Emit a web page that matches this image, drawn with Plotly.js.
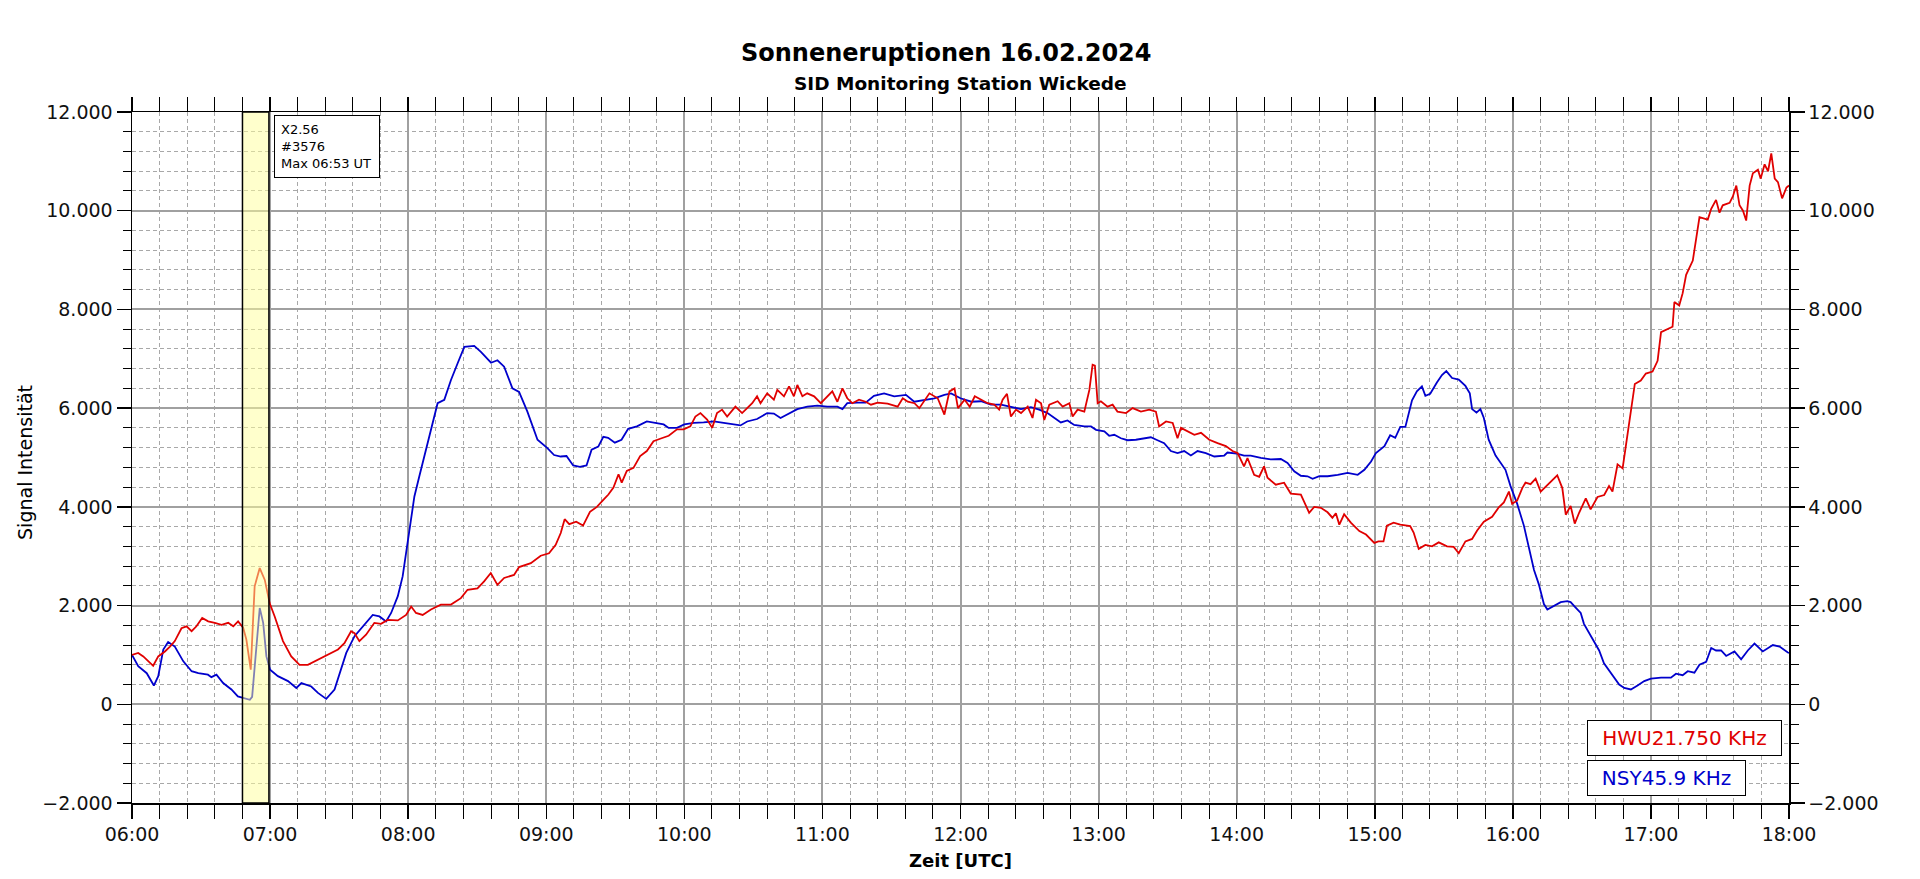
<!DOCTYPE html>
<html>
<head>
<meta charset="utf-8">
<script src="https://cdn.plot.ly/plotly-3.0.1.min.js"></script>
<style>
  html, body { margin: 0; padding: 0; background: #FFFFFF; }
  #sidChart { width: 1920px; height: 879px; }
</style>
</head>
<body>
<div id="sidChart"></div>
<script>
// =========================================================================
// SID monitoring chart: Sonneneruptionen 16.02.2024
// Two VLF receivers (HWU 21.750 kHz, NSY 45.9 kHz), 06:00 to 18:00 UTC
// =========================================================================

// -------------------------------------------------------------------------
// Data. Times are minutes after 06:00 UTC.
// -------------------------------------------------------------------------
const DAY = "2024-02-16";

const HWU_MIN = [
  0, 2.7, 4.9, 7, 9.2, 11.4, 14.3, 16.5, 18.6, 21.5,
  23.7, 25.9, 28, 30.5, 33.1, 36, 38.9, 41.8, 44, 46.1,
  48.3, 49.7, 51.6, 53.3, 55.5, 57.7, 59.8, 62, 65.6, 69.2,
  72.8, 76.4, 80.8, 85.1, 89.5, 92.3, 95.2, 96.7, 98.8, 101.7,
  105.3, 108.2, 111.1, 115.5, 119.1, 121.3, 123.4, 126.3, 129.9, 134.2,
  138.6, 142.9, 145.8, 150.1, 153, 155.9, 158.8, 161.7, 166, 168.2,
  173.3, 177.6, 181.2, 184.1, 186.3, 188, 190, 193, 196, 199,
  202, 205, 207, 209.2, 211.4, 212.8, 215, 217.9, 220.8, 223.7,
  226.6, 229.5, 233.2, 236.8, 239.7, 242.6, 244.8, 247, 249.9, 252.1,
  254.2, 256.4, 258.6, 262.2, 265.1, 267.3, 269.5, 271.6, 273.1, 276,
  278.9, 280.4, 283.3, 285.5, 287.6, 289.1, 291.3, 293.4, 296.4, 299.3,
  302.1, 304.3, 306.5, 308.7, 310.8, 313, 315.9, 318.8, 321.1, 324,
  328.3, 332.7, 334.9, 337.1, 340, 342.1, 346.5, 350.1, 353, 355.2,
  357.4, 358.9, 361.8, 364, 366.2, 368.9, 371.8, 374.7, 376.8, 378.3,
  380.2, 381.9, 384.1, 386.3, 389.2, 391.3, 392.8, 395, 396.4, 398.6,
  402.2, 404.4, 407.3, 408.7, 410.9, 413.8, 416, 417.4, 418.4, 419.6,
  421, 423.9, 426.1, 428.2, 431.9, 434.8, 438.4, 442, 444.9, 446.3,
  449.3, 452.2, 454.3, 455.8, 458.7, 461.6, 464.5, 468.1, 471.7, 475.3,
  478.2, 480.4, 483.2, 484.7, 487.6, 489.8, 491.9, 493.4, 497, 500.6,
  503.5, 507.9, 511.5, 513.7, 516.6, 519.5, 521.6, 523.1, 524.6, 526.7,
  529.6, 533.3, 536.2, 539.8, 541.6, 543.8, 545.3, 548.2, 551.1, 555.4,
  556.9, 559.1, 562, 564.9, 567.8, 571.4, 574.3, 576.5, 579.4, 582.3,
  584.5, 587.4, 591, 593.9, 596.1, 598.3, 599.7, 601.9, 604.1, 605.5,
  607.7, 609.9, 612.1, 615, 617.1, 619.3, 621.5, 623, 625.1, 626.9,
  628.8, 631.7, 633.8, 636.8, 639.7, 641.8, 643.3, 645.5, 647.7, 649.1,
  651.3, 653, 655.6, 657.8, 660.7, 662.9, 664.4, 668, 669.4, 670.2,
  672.3, 673.8, 675.3, 678.2, 679.6, 681.1, 684.7, 686.2, 688.3, 689.8,
  691.2, 694.2, 695.6, 697.1, 698.5, 700, 701.4, 702.9, 704.3, 706.5,
  707.7, 709.4, 710.9, 712.3, 713.8, 715.2, 717, 718.9, 720,
];
const HWU_VAL = [
  1000, 1040, 970, 870, 780, 970, 1070, 1170, 1280, 1540,
  1580, 1480, 1580, 1750, 1680, 1650, 1610, 1650, 1580, 1680,
  1550, 1310, 700, 2390, 2760, 2520, 2050, 1780, 1280, 970,
  800, 800, 900, 1000, 1110, 1240, 1480, 1440, 1280, 1410,
  1650, 1630, 1710, 1700, 1810, 1980, 1850, 1810, 1920, 2020,
  2020, 2150, 2320, 2350, 2490, 2660, 2420, 2560, 2620, 2780,
  2860, 3010, 3060, 3230, 3470, 3750, 3650, 3700, 3620, 3900,
  4000, 4150, 4250, 4390, 4660, 4490, 4730, 4790, 5030, 5130,
  5330, 5380, 5440, 5570, 5570, 5630, 5830, 5900, 5770, 5600,
  5900, 5970, 5830, 6030, 5900, 6000, 6100, 6240, 6100, 6300,
  6170, 6370, 6240, 6440, 6240, 6470, 6240, 6300, 6240, 6100,
  6240, 6340, 6130, 6400, 6200, 6100, 6170, 6130, 6070, 6110,
  6090, 6030, 6200, 6130, 6100, 6000, 6300, 6200, 5870, 6340,
  6400, 6000, 6170, 6030, 6240, 6180, 6100, 6070, 5970, 6170,
  6290, 5830, 5970, 5900, 6030, 5800, 6170, 6100, 5760, 6070,
  6140, 6030, 6100, 5830, 5970, 5930, 6370, 6880, 6860, 6100,
  6140, 6030, 6070, 5930, 5900, 6000, 5930, 5970, 5930, 5630,
  5730, 5700, 5390, 5600, 5530, 5460, 5500, 5360, 5290, 5230,
  5130, 5090, 4820, 4990, 4650, 4610, 4820, 4590, 4450, 4490,
  4270, 4250, 3880, 4000, 3980, 3890, 3780, 3870, 3640, 3850,
  3680, 3510, 3440, 3270, 3300, 3300, 3620, 3680, 3640, 3610,
  3480, 3150, 3230, 3200, 3280, 3200, 3190, 3060, 3300, 3350,
  3520, 3700, 3800, 3990, 4090, 4310, 4060, 4130, 4380, 4490,
  4460, 4570, 4310, 4440, 4530, 4640, 4380, 3840, 4020, 3660,
  3880, 4170, 3950, 4200, 4240, 4420, 4310, 4860, 4780, 5220,
  5870, 6490, 6560, 6700, 6740, 6960, 7540, 7610, 7650, 8150,
  8080, 8330, 8700, 8990, 9420, 9870, 9820, 10040, 10220, 9960,
  10110, 10160, 10290, 10510, 10110, 10000, 9800, 10510, 10760, 10830,
  10650, 10940, 10800, 11160, 10650, 10580, 10250, 10470, 10510,
];

const NSY_MIN = [
  0, 2.7, 6.4, 9.5, 11.4, 13.6, 15.7, 18.6, 22.3, 25.9,
  28.8, 33, 34.5, 36.7, 39.6, 43.2, 46, 51.2, 52.2, 55.5,
  57, 58.4, 60, 63.4, 67.8, 71.4, 73.6, 77.9, 80.8, 84.4,
  88, 90.9, 93.1, 96.7, 101, 104.6, 107.5, 110.4, 112.6, 115.5,
  117.6, 119.8, 122.7, 124.8, 127, 129.2, 131.4, 132.8, 135.7, 138.6,
  141.5, 144.4, 148.7, 151.6, 156, 158.8, 161.7, 165.3, 168.2, 171.8,
  176.2, 180.5, 183.4, 186.3, 188.8, 191.7, 194.6, 197.5, 199.7, 202.6,
  204.8, 206.9, 209.8, 212.7, 215.6, 219.4, 223.7, 227.4, 231, 233.2,
  236.8, 240, 244.1, 248.4, 252.8, 257.1, 261.5, 264.4, 267.3, 271.6,
  276, 278.9, 281.8, 284.7, 289.1, 293.4, 297.8, 302.1, 306.5, 308.7,
  310.8, 315.2, 318.8, 322.4, 326.8, 331.2, 336.3, 339.9, 344.3, 348.6,
  353, 355.9, 360, 364.7, 368.9, 373.2, 377.6, 381.9, 386.3, 390.6,
  394.2, 397.8, 400, 403.6, 406.5, 409.4, 413.8, 416.7, 418.9, 422.5,
  424.6, 426.8, 429.7, 432.6, 436.2, 439.9, 442.7, 445.6, 448.5, 451.4,
  454.3, 457.2, 460.1, 463, 466.6, 470.3, 474.6, 476, 480.1, 483.2,
  486.1, 490.5, 494.8, 499.2, 502.1, 505, 507.9, 510.8, 513, 515.9,
  519.5, 523.9, 528.2, 532.6, 535.5, 538.4, 540.5, 544.2, 546.7, 548.9,
  551.1, 553.3, 554.5, 556.2, 558.3, 560.5, 562, 564.1, 567, 569.2,
  571.1, 573.6, 576.5, 579.4, 581.3, 582.3, 584.2, 585.9, 587.4, 589.5,
  592.5, 595.4, 596.8, 599, 601.9, 604.8, 607, 609.2, 611.3, 613.5,
  615, 617.9, 620.8, 623.7, 625.1, 627.3, 629.5, 630.9, 633.1, 635.3,
  637.5, 639.6, 641.8, 644, 646.2, 648.4, 651.3, 654.2, 657.1, 660,
  664.4, 668.7, 670.9, 673.8, 676, 678.9, 681.1, 684, 686.2, 688.3,
  690.5, 692.7, 696.3, 699.2, 702.1, 705, 708.6, 713, 715.9, 719.5,
  720,
];
const NSY_VAL = [
  1000, 770, 630, 380, 570, 1110, 1260, 1170, 870, 670,
  630, 600, 550, 600, 430, 300, 160, 90, 150, 1950,
  1650, 970, 700, 570, 470, 330, 430, 360, 230, 110,
  300, 700, 1040, 1380, 1610, 1810, 1780, 1680, 1850, 2190,
  2590, 3270, 4210, 4610, 5020, 5420, 5830, 6100, 6170, 6570,
  6910, 7240, 7260, 7140, 6920, 6970, 6840, 6400, 6330, 5930,
  5360, 5190, 5050, 5020, 5030, 4840, 4810, 4840, 5160, 5220,
  5420, 5400, 5300, 5360, 5580, 5630, 5730, 5700, 5670, 5600,
  5600, 5670, 5700, 5710, 5730, 5700, 5670, 5650, 5730, 5780,
  5900, 5890, 5800, 5870, 5980, 6030, 6050, 6030, 6030, 5980,
  6100, 6110, 6110, 6250, 6300, 6240, 6270, 6130, 6170, 6200,
  6270, 6300, 6200, 6130, 6140, 6070, 6070, 6030, 5980, 6020,
  5970, 5900, 5830, 5710, 5750, 5660, 5630, 5630, 5560, 5530,
  5440, 5460, 5390, 5350, 5360, 5390, 5410, 5350, 5290, 5130,
  5090, 5130, 5040, 5130, 5090, 5020, 5040, 5100, 5080, 5040,
  5040, 4990, 4960, 4970, 4890, 4720, 4630, 4620, 4570, 4620,
  4620, 4650, 4690, 4650, 4750, 4920, 5090, 5230, 5450, 5400,
  5620, 5620, 5830, 6160, 6340, 6440, 6250, 6290, 6520, 6670,
  6750, 6610, 6580, 6450, 6300, 5980, 5910, 5980, 5800, 5360,
  5040, 4860, 4750, 4420, 4060, 3620, 3190, 2720, 2430, 2030,
  1920, 1990, 2070, 2090, 2070, 1960, 1850, 1630, 1450, 1300,
  1090, 830, 690, 540, 400, 330, 300, 380, 470, 520,
  540, 540, 620, 590, 670, 640, 800, 860, 1140, 1090,
  1090, 980, 1070, 910, 1090, 1230, 1070, 1200, 1170, 1050,
  1040,
];

// Flare marker (yellow band) and its note
const FLARE_START = "06:48:00";
const FLARE_END = "06:59:30";
const FLARE_NOTE = ["X2.56", "#3576", "Max 06:53 UT"];

const STATIONS = ["HWU21.750 KHz", "NSY45.9 KHz"];

// -------------------------------------------------------------------------
// Look
// -------------------------------------------------------------------------
const COLORS = {
  hwu: "#E00000",
  nsy: "#0000CC",
  gridMajor: "#A0A0A0",
  gridMinor: "#A8A8A8",
  axis: "#000000",
  text: "#111111",
};
const FONT = "DejaVu Sans, Verdana, sans-serif";

// minutes after 06:00 -> "2024-02-16 HH:MM:SS"
function clock(min) {
  const ms = Date.UTC(2024, 1, 16, 6, 0, 0) + Math.round(min * 60) * 1000;
  return new Date(ms).toISOString().slice(0, 19).replace("T", " ");
}

function drawChart() {
  const traces = [
    {
      name: STATIONS[1],
      x: NSY_MIN.map(clock),
      y: NSY_VAL,
      type: "scatter",
      mode: "lines",
      line: { color: COLORS.nsy, width: 1.8 },
      showlegend: false,
    },
    {
      name: STATIONS[0],
      x: HWU_MIN.map(clock),
      y: HWU_VAL,
      type: "scatter",
      mode: "lines",
      line: { color: COLORS.hwu, width: 1.8 },
      showlegend: false,
    },
    // empty trace so the mirrored right-hand scale gets drawn
    {
      x: [],
      y: [],
      yaxis: "y2",
      type: "scatter",
      mode: "lines",
      showlegend: false,
      hoverinfo: "skip",
    },
  ];

  const yTicks = {
    range: [-2000, 12000],
    autorange: false,
    dtick: 2000,
    tick0: 0,
    tickformat: ",d",
    separatethousands: true,
    ticks: "outside",
    ticklen: 14,
    tickwidth: 1.5,
    tickcolor: COLORS.axis,
    tickfont: { family: FONT, size: 19, color: COLORS.text },
    showline: true,
    linecolor: COLORS.axis,
    linewidth: 1.5,
    zeroline: false,
    minor: {
      dtick: 400,
      ticks: "outside",
      ticklen: 8,
      tickwidth: 1,
      tickcolor: COLORS.axis,
    },
  };

  const layout = {
    width: 1920,
    height: 879,
    margin: { l: 132, r: 131, t: 112, b: 76 },
    paper_bgcolor: "#FFFFFF",
    plot_bgcolor: "#FFFFFF",
    separators: ",.",
    showlegend: false,
    font: { family: FONT, color: COLORS.text },
    xaxis: {
      type: "date",
      range: [DAY + " 06:00", DAY + " 18:00"],
      tick0: DAY + " 06:00",
      dtick: 3600000,
      tickformat: "%H:%M",
      ticks: "outside",
      ticklen: 14,
      tickwidth: 1.5,
      tickcolor: COLORS.axis,
      tickfont: { family: FONT, size: 19, color: COLORS.text },
      showline: true,
      mirror: "allticks",
      linecolor: COLORS.axis,
      linewidth: 1.5,
      showgrid: true,
      gridcolor: COLORS.gridMajor,
      gridwidth: 2,
      zeroline: false,
      minor: {
        dtick: 720000,
        ticks: "outside",
        ticklen: 8,
        tickwidth: 1,
        tickcolor: COLORS.axis,
        showgrid: true,
        gridcolor: COLORS.gridMinor,
        gridwidth: 1,
        griddash: "4px,3px",
      },
    },
    yaxis: Object.assign({}, yTicks, {
      showgrid: true,
      gridcolor: COLORS.gridMajor,
      gridwidth: 2,
      minor: Object.assign({}, yTicks.minor, {
        showgrid: true,
        gridcolor: COLORS.gridMinor,
        gridwidth: 1,
        griddash: "4px,3px",
      }),
    }),
    yaxis2: Object.assign({}, yTicks, {
      overlaying: "y",
      side: "right",
      anchor: "x",
      showgrid: false,
    }),
    shapes: [
      {
        type: "rect",
        xref: "x",
        yref: "y",
        x0: DAY + " " + FLARE_START,
        x1: DAY + " " + FLARE_END,
        y0: -2000,
        y1: 12000,
        layer: "above",
        fillcolor: "rgba(255, 255, 153, 0.5)",
        line: { color: "#000000", width: 1.5 },
      },
    ],
    annotations: [
      {
        text: "Sonneneruptionen 16.02.2024",
        xref: "paper", yref: "paper",
        x: 0.4915, y: 1.0861,
        xanchor: "center", yanchor: "middle",
        showarrow: false,
        font: { family: FONT, size: 24, color: "#000000", weight: "bold" },
      },
      {
        text: "SID Monitoring Station Wickede",
        xref: "paper", yref: "paper",
        x: 0.5, y: 1.0407,
        xanchor: "center", yanchor: "middle",
        showarrow: false,
        font: { family: FONT, size: 18.5, color: "#000000", weight: "bold" },
      },
      {
        text: "Signal Intensität",
        xref: "paper", yref: "paper",
        x: -0.0646, y: 0.4935,
        xanchor: "center", yanchor: "middle",
        textangle: -90,
        showarrow: false,
        font: { family: FONT, size: 19, color: "#000000" },
      },
      {
        text: "Zeit [UTC]",
        xref: "paper", yref: "paper",
        x: 0.5, y: -0.0839,
        xanchor: "center", yanchor: "middle",
        showarrow: false,
        font: { family: FONT, size: 18, color: "#000000", weight: "bold" },
      },
      {
        text: FLARE_NOTE.join("<br>"),
        xref: "paper", yref: "paper",
        x: 0.0859, y: 0.9952,
        xanchor: "left", yanchor: "top",
        align: "left",
        width: 92,
        showarrow: false,
        bgcolor: "#FFFFFF",
        bordercolor: "#000000",
        borderwidth: 1,
        borderpad: 6,
        font: { family: FONT, size: 13, color: "#000000" },
      },
      {
        text: STATIONS[0],
        xref: "paper", yref: "paper",
        x: 0.8778, y: 0.1197,
        xanchor: "left", yanchor: "top",
        width: 183,
        showarrow: false,
        bgcolor: "#FFFFFF",
        bordercolor: "#000000",
        borderwidth: 1,
        borderpad: 5,
        font: { family: FONT, size: 20, color: COLORS.hwu },
      },
      {
        text: STATIONS[1],
        xref: "paper", yref: "paper",
        x: 0.8778, y: 0.0627,
        xanchor: "left", yanchor: "top",
        width: 147,
        showarrow: false,
        bgcolor: "#FFFFFF",
        bordercolor: "#000000",
        borderwidth: 1,
        borderpad: 5,
        font: { family: FONT, size: 20, color: COLORS.nsy },
      },
    ],
  };

  Plotly.newPlot("sidChart", traces, layout, { displayModeBar: false, staticPlot: true });
}

drawChart();
</script>
</body>
</html>
